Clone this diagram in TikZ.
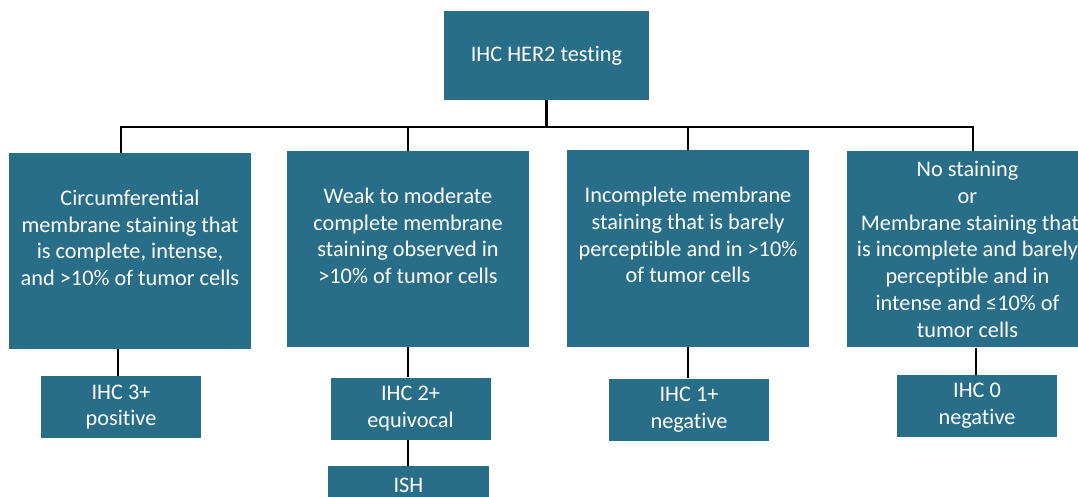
\documentclass[tikz,border=0pt]{standalone}
\usepackage{fontspec}
\setmainfont{Carlito}[Ligatures=NoCommon]
\definecolor{tealbox}{RGB}{40,110,137}
\begin{document}
\begin{tikzpicture}[x=1pt,y=-1pt,
  box/.style={fill=tealbox,text=white,align=center,inner sep=0pt,
    font=\fontsize{22.3}{26.7}\selectfont},
  midbox/.style={box,minimum width=242pt,minimum height=196pt},
  resbox/.style={box,minimum width=160pt,minimum height=62pt},
  conn/.style={draw=black,line width=2.6pt}]
\useasboundingbox (0,0) rectangle (1078,497);
% boxes
\node[box,minimum width=205pt,minimum height=89pt] (top) at (546.5,55.5) {IHC HER2 testing};
\node[midbox] (b1) at (130,251) {Circumferential\\membrane staining that\\is complete, intense,\\and >10\% of tumor cells\\\mbox{}};
\node[midbox] (b2) at (408,249) {Weak to moderate\\complete membrane\\staining observed in\\>10\% of tumor cells\\\mbox{}};
\node[midbox] (b3) at (688,248.5) {Incomplete membrane\\staining that is barely\\perceptible and in >10\%\\of tumor cells\\\mbox{}};
\node[midbox] (b4) at (967.5,249.4) {No staining\\or\\\ Membrane staining that\\is incomplete and barely\\perceptible and in\\intense and ≤10\% of\\tumor cells};
\node[resbox] (r1) at (121,407) {IHC 3+\\positive};
\node[resbox] (r2) at (410.5,408.5) {IHC 2+\\equivocal};
\node[box,minimum width=161pt,minimum height=38pt] (ish) at (408.5,485) {ISH};
\node[resbox] (r3) at (689,409.5) {IHC 1+\\negative};
\node[resbox] (r4) at (977,406) {IHC 0\\negative};
% connector positions
\coordinate (j1) at (121,127);
\coordinate (j2) at (408,127);
\coordinate (j3) at (688,127);
\coordinate (j4) at (973,127);
\coordinate (x1) at (118,0);
\coordinate (x2) at (408,0);
\coordinate (x3) at (688,0);
\coordinate (x4) at (976,0);
% connectors
\draw[conn] (top.south) -- (top.south |- j1);
\draw[conn,line cap=rect] (j1) -- (j4);
\draw[conn] (j1) -- (j1 |- b1.north);
\draw[conn] (j2) -- (j2 |- b2.north);
\draw[conn] (j3) -- (j3 |- b3.north);
\draw[conn] (j4) -- (j4 |- b4.north);
\draw[conn] (b1.south -| x1) -- (r1.north -| x1);
\draw[conn] (b2.south -| x2) -- (r2.north -| x2);
\draw[conn] (r2.south -| x2) -- (ish.north -| x2);
\draw[conn] (b3.south -| x3) -- (r3.north -| x3);
\draw[conn] (b4.south -| x4) -- (r4.north -| x4);
\end{tikzpicture}
\end{document}
